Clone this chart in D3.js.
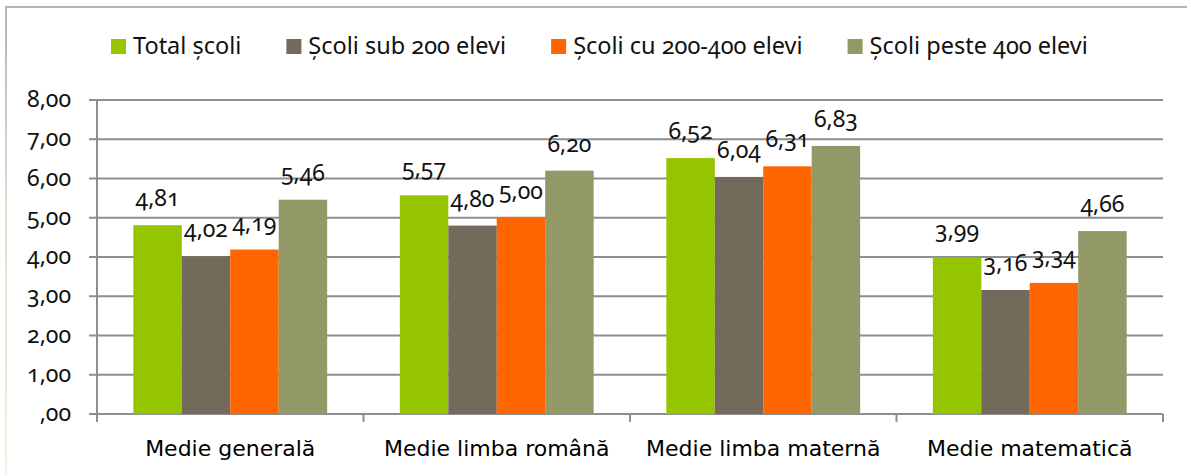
<!DOCTYPE html>
<html>
<head>
<meta charset="utf-8">
<script src="https://cdn.jsdelivr.net/npm/d3@7"></script>
<style>
  body { margin: 0; background: #fff; }
  svg { display: block; }
  .num { font-family: "Noto Sans", sans-serif; font-feature-settings: "onum"; font-variant-numeric: oldstyle-nums; }
</style>
</head>
<body>
<div class="viz"></div>
<script>
const width = 1187, height = 475;

// data
const categories = ["Medie generală", "Medie limba română", "Medie limba maternă", "Medie matematică"];
const seriesNames = ["Total școli", "Școli sub 200 elevi", "Școli cu 200-400 elevi", "Școli peste 400 elevi"];
const totalScoli = [4.81, 5.57, 6.52, 3.99];
const sub200 = [4.02, 4.80, 6.04, 3.16];
const intre200_400 = [4.19, 5.00, 6.31, 3.34];
const peste400 = [5.46, 6.20, 6.83, 4.66];
const yTicks = [0, 1, 2, 3, 4, 5, 6, 7, 8];
const colors = ["#95c400", "#736a5b", "#ff6600", "#929866"];

const seriesValues = [totalScoli, sub200, intre200_400, peste400];
const margin = { left: 97, right: 24, top: 100, bottom: 61 };

const fmt = v => {
  const s = v.toFixed(2).replace(".", ",");
  return s.startsWith("0,") ? s.slice(1) : s;
};

const svg = d3.select(".viz").append("svg").attr("width", width).attr("height", height);

// outer frame (top line + fading left line)
const defs = svg.append("defs");
const grad = defs.append("linearGradient").attr("id", "leftfade")
  .attr("x1", 0).attr("y1", 0).attr("x2", 0).attr("y2", 1);
grad.append("stop").attr("offset", "0%").attr("stop-color", "#b2b6ae");
grad.append("stop").attr("offset", "45%").attr("stop-color", "#d8e6cc");
grad.append("stop").attr("offset", "100%").attr("stop-color", "#e9f5dd");
svg.append("rect").attr("x", 5).attr("y", 6).attr("width", 2).attr("height", height - 6).attr("fill", "url(#leftfade)");
svg.append("rect").attr("x", 5).attr("y", 6).attr("width", width - 5).attr("height", 2).attr("fill", "#b4b4b4");

const x0 = d3.scaleBand()
  .domain(categories)
  .range([margin.left, width - margin.right])
  .paddingInner(0)
  .paddingOuter(0);

// gap width 150% of one bar on the outside of each group
const x1 = d3.scaleBand()
  .domain(d3.range(seriesNames.length))
  .range([0, x0.bandwidth()])
  .paddingOuter(0.75)
  .paddingInner(0);

const y = d3.scaleLinear().domain([0, 8]).range([height - margin.bottom, margin.top]);

const gridColor = "#8e8e8e";

// gridlines
svg.append("g").selectAll("line").data(yTicks).join("line")
  .attr("x1", margin.left - 8).attr("x2", width - margin.right)
  .attr("y1", d => y(d)).attr("y2", d => y(d))
  .attr("stroke", gridColor).attr("stroke-width", 2);

// y axis line
svg.append("line")
  .attr("x1", margin.left).attr("x2", margin.left)
  .attr("y1", y(8)).attr("y2", y(0) + 8)
  .attr("stroke", gridColor).attr("stroke-width", 2);

// category separator ticks
svg.append("g").selectAll("line").data(categories).join("line")
  .attr("x1", d => x0(d) + x0.bandwidth()).attr("x2", d => x0(d) + x0.bandwidth())
  .attr("y1", y(0)).attr("y2", y(0) + 8)
  .attr("stroke", gridColor).attr("stroke-width", 2);

// y tick labels
svg.append("g").selectAll("text").data(yTicks).join("text")
  .attr("class", "num")
  .attr("x", 71).attr("y", d => y(d) + 7)
  .attr("text-anchor", "end")
  .attr("font-size", 23)
  .attr("fill", "#111")
  .text(fmt);

// bars
const groups = svg.append("g").selectAll("g").data(categories).join("g")
  .attr("transform", d => `translate(${x0(d)},0)`);

groups.selectAll("rect")
  .data((d, ci) => seriesValues.map((vals, si) => ({ si, v: vals[ci] })))
  .join("rect")
  .attr("x", d => x1(d.si))
  .attr("width", x1.bandwidth())
  .attr("y", d => y(d.v))
  .attr("height", d => y(0) - y(d.v))
  .attr("fill", d => colors[d.si]);

groups.selectAll("text")
  .data((d, ci) => seriesValues.map((vals, si) => ({ si, v: vals[ci] })))
  .join("text")
  .attr("class", "num")
  .attr("x", d => x1(d.si) + x1.bandwidth() / 2)
  .attr("y", d => y(d.v) - 19)
  .attr("text-anchor", "middle")
  .attr("font-size", 23)
  .attr("fill", "#111")
  .text(d => fmt(d.v));

// category labels
svg.append("g").selectAll("text").data(categories).join("text")
  .attr("x", d => x0(d) + x0.bandwidth() / 2)
  .attr("y", 456)
  .attr("text-anchor", "middle")
  .attr("font-family", "'DejaVu Sans', Verdana, sans-serif")
  .attr("font-size", 22)
  .attr("fill", "#000")
  .text(d => d);

// legend
const legend = svg.append("g");
let lx = 111;
seriesNames.forEach((name, i) => {
  legend.append("rect").attr("x", lx).attr("y", 39).attr("width", 15).attr("height", 15).attr("fill", colors[i]);
  const t = legend.append("text")
    .attr("class", "num")
    .attr("x", lx + 22).attr("y", 54)
    .attr("font-size", 23.5)
    .attr("fill", "#111")
    .text(name);
  lx += 22 + t.node().getComputedTextLength() + 45;
});
</script>
</body>
</html>
